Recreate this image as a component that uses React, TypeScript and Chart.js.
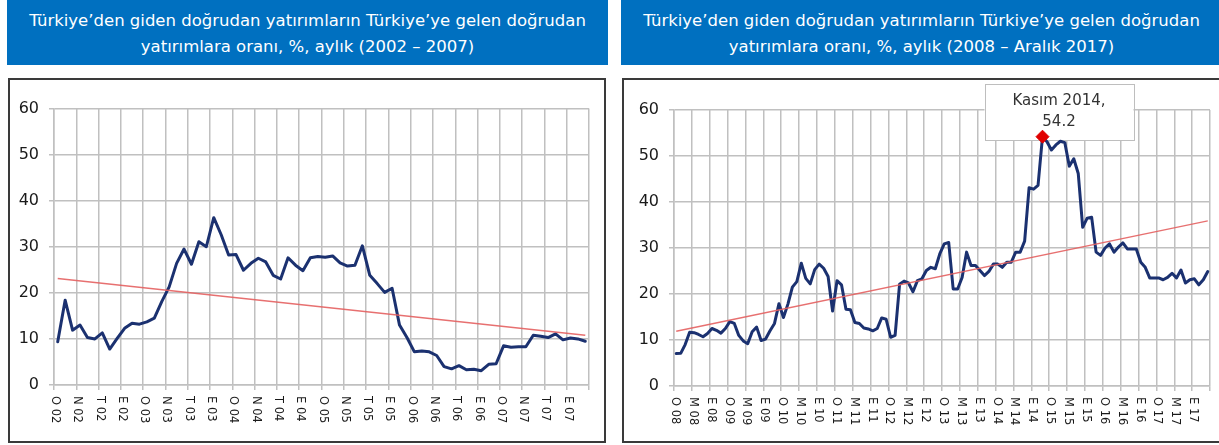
import React, { useEffect, useRef } from "react";
import { Chart, registerables } from "chart.js";

Chart.register(...registerables);
Chart.defaults.font.family = '"DejaVu Sans", Verdana, sans-serif';

// ---------- Data ----------
const leftYears = [2002, 2003, 2004, 2005, 2006, 2007];
const rightYears = [2008, 2009, 2010, 2011, 2012, 2013, 2014, 2015, 2016, 2017];

const leftValues = [
  9.4, 18.4, 11.9, 13.0, 10.3, 10.0, 11.3, 7.8, 10.1, 12.3, 13.4, 13.2,
  13.7, 14.5, 18.1, 21.3, 26.4, 29.5, 26.2, 31.1, 30.0, 36.3, 32.6, 28.2,
  28.3, 24.9, 26.4, 27.5, 26.7, 23.8, 23.0, 27.6, 26.0, 24.8, 27.6, 27.9,
  27.7, 28.0, 26.5, 25.8, 26.0, 30.2, 23.8, 22.0, 20.1, 21.0, 13.0, 10.3,
  7.2, 7.4, 7.2, 6.4, 4.0, 3.5, 4.2, 3.3, 3.4, 3.1, 4.5, 4.6,
  8.5, 8.2, 8.3, 8.3, 10.8, 10.6, 10.3, 11.1, 9.8, 10.2, 10.0, 9.5,
];

const rightValues = [
  7.05, 7.1, 9.0, 11.7, 11.6, 11.2, 10.7, 11.4, 12.5, 12.1, 11.5, 12.5,
  14.0, 13.6, 11.0, 9.8, 9.2, 11.8, 12.8, 9.9, 10.2, 12.0, 13.6, 17.9,
  14.9, 17.8, 21.5, 22.7, 26.7, 23.4, 22.2, 25.3, 26.5, 25.6, 23.8, 16.3,
  22.9, 22.0, 16.7, 16.6, 13.8, 13.6, 12.6, 12.4, 12.0, 12.5, 14.8, 14.5,
  10.6, 11.0, 22.1, 22.8, 22.4, 20.5, 22.9, 23.3, 25.1, 25.8, 25.5, 28.7,
  30.9, 31.2, 21.1, 21.1, 23.6, 29.1, 26.2, 26.2, 25.1, 24.0, 24.9, 26.5,
  26.5, 25.8, 26.9, 26.9, 29.1, 29.1, 31.5, 43.1, 42.8, 43.6, 54.2, 53.1,
  51.3, 52.4, 53.2, 52.9, 47.8, 49.4, 46.2, 34.5, 36.5, 36.7, 29.1, 28.4,
  30.0, 30.9, 29.1, 30.2, 31.1, 29.8, 29.8, 29.8, 26.9, 25.8, 23.5, 23.5,
  23.5, 23.1, 23.6, 24.5, 23.5, 25.2, 22.4, 23.1, 23.3, 22.0, 23.1, 24.9,
];

// trend line end values (first / last month)
const leftTrend = [23.1, 10.8];
const rightTrend = [11.9, 35.9];

// x-axis tick labels (every 3rd month on the left, every 4th on the right)
const leftTickLabels = [
  "O 02", "N 02", "T 02", "E 02", "O 03", "N 03", "T 03", "E 03",
  "O 04", "N 04", "T 04", "E 04", "O 05", "N 05", "T 05", "E 05",
  "O 06", "N 06", "T 06", "E 06", "O 07", "N 07", "T 07", "E 07",
];
const rightTickLabels = [
  "O 08", "M 08", "E 08", "O 09", "M 09", "E 09", "O 10", "M 10", "E 10",
  "O 11", "M 11", "E 11", "O 12", "M 12", "E 12", "O 13", "M 13", "E 13",
  "O 14", "M 14", "E 14", "O 15", "M 15", "E 15", "O 16", "M 16", "E 16",
  "O 17", "M 17", "E 17",
];
const yTicks = [0, 10, 20, 30, 40, 50, 60];

const leftTitle = ["Türkiye’den giden doğrudan yatırımların Türkiye’ye gelen doğrudan", "yatırımlara oranı, %, aylık (2002 – 2007)"];
const rightTitle = ["Türkiye’den giden doğrudan yatırımların Türkiye’ye gelen doğrudan", "yatırımlara oranı, %, aylık (2008 – Aralık 2017)"];
const peakLabel = "Kasım 2014,";

// ---------- Styling ----------
const FONT = '"DejaVu Sans", Verdana, sans-serif';
const GRID = "rgb(192,192,192)";
const LINE = "#1b3170";
const TREND = "rgba(228,96,96,0.9)";
const HEADER_BLUE = "#0070C0";

function monthKeys(years: number[]) {
  const out: string[] = [];
  years.forEach((y) => {
    for (let m = 1; m <= 12; m++) out.push(`${y}-${m < 10 ? "0" : ""}${m}`);
  });
  return out;
}

type Cfg = {
  values: number[];
  trend: number[];
  years: number[];
  tickLabels: string[];
  every: number;
  width: number;
  height: number;
  padTop: number;
  padRight: number;
  yAxisW: number;
  xAxisH: number;
  peak?: boolean;
};

function makeChart(canvas: HTMLCanvasElement, c: Cfg) {
  const labels = monthKeys(c.years);
  const n = labels.length;
  const trendData: (number | null)[] = labels.map(() => null);
  trendData[0] = c.trend[0];
  trendData[n - 1] = c.trend[1];
  let peakIdx = 0;
  c.values.forEach((v, i) => {
    if (v > c.values[peakIdx]) peakIdx = i;
  });

  const xLabelPlugin = {
    id: "xLabels",
    afterDraw(chart: any) {
      const xs = chart.scales.x;
      const ctx = chart.ctx as CanvasRenderingContext2D;
      const half = (xs.getPixelForValue(1) - xs.getPixelForValue(0)) / 2;
      ctx.save();
      ctx.font = `11.5px ${FONT}`;
      ctx.fillStyle = "#1a1a1a";
      ctx.textAlign = "left";
      ctx.textBaseline = "middle";
      c.tickLabels.forEach((lab, k) => {
        const x = xs.getPixelForValue(k * c.every) - half + 1;
        const y = xs.top + 11;
        ctx.save();
        ctx.translate(x, y);
        ctx.rotate(Math.PI / 2);
        ctx.fillText(lab, 0, 0);
        ctx.restore();
      });
      ctx.restore();
    },
  };

  const peakPlugin = {
    id: "peakBox",
    beforeDatasetsDraw(chart: any) {
      if (!c.peak) return;
      const pt = chart.getDatasetMeta(0).data[peakIdx];
      if (!pt) return;
      const ctx = chart.ctx as CanvasRenderingContext2D;
      const bx = pt.x - 58;
      const by = pt.y - 52.5;
      const bw = 149;
      const bh = 56;
      ctx.save();
      ctx.fillStyle = "#ffffff";
      ctx.fillRect(bx, by, bw, bh);
      ctx.strokeStyle = "rgb(190,190,190)";
      ctx.lineWidth = 1;
      ctx.strokeRect(Math.round(bx) + 0.5, Math.round(by) + 0.5, bw, bh);
      ctx.fillStyle = "#333333";
      ctx.font = `15px ${FONT}`;
      ctx.textAlign = "center";
      ctx.textBaseline = "middle";
      ctx.fillText(peakLabel, bx + bw / 2, pt.y - 36);
      ctx.fillText(c.values[peakIdx].toFixed(1), bx + bw / 2, pt.y - 15);
      ctx.restore();
    },
  };

  const every = c.every;
  return new Chart(canvas, {
    type: "line",
    data: {
      labels,
      datasets: [
        {
          data: c.values,
          borderColor: LINE,
          borderWidth: 3,
          tension: 0,
          borderJoinStyle: "round",
          borderCapStyle: "round",
          pointStyle: "rectRot",
          pointRadius: (ctx: any) => (c.peak && ctx.dataIndex === peakIdx ? 6.5 : 0),
          pointHoverRadius: 0,
          pointBackgroundColor: "#e00000",
          pointBorderColor: "#e00000",
          pointBorderWidth: 1,
          order: 2,
        } as any,
        {
          data: trendData,
          spanGaps: true,
          borderColor: TREND,
          borderWidth: 1.4,
          pointRadius: 0,
          tension: 0,
          order: 1,
        } as any,
      ],
    },
    options: {
      animation: false,
      responsive: false,
      maintainAspectRatio: false,
      events: [],
      layout: { padding: { top: c.padTop, right: c.padRight, left: 0, bottom: 0 } },
      plugins: { legend: { display: false }, tooltip: { enabled: false } },
      scales: {
        x: {
          type: "category",
          offset: true,
          grid: {
            offset: true,
            drawTicks: true,
            tickLength: 5,
            lineWidth: 1.5,
            color: (ctx: any) =>
              ctx.index === undefined || ctx.index % every === 0 ? GRID : "rgba(0,0,0,0)",
          },
          border: { display: true, color: GRID, width: 1.5 },
          ticks: { display: false, autoSkip: false },
          afterFit: (s: any) => {
            s.height = c.xAxisH;
          },
        },
        y: {
          min: yTicks[0],
          max: yTicks[yTicks.length - 1],
          afterBuildTicks: (s: any) => {
            s.ticks = yTicks.map((v) => ({ value: v }));
          },
          ticks: {
            font: { family: FONT, size: 16 },
            color: "#1a1a1a",
            padding: 10,
          },
          grid: { color: GRID, lineWidth: 1.5, tickLength: 5, drawTicks: true },
          border: { display: true, color: GRID, width: 1.5 },
          afterFit: (s: any) => {
            s.width = c.yAxisW;
          },
        },
      },
    } as any,
    plugins: [peakPlugin, xLabelPlugin],
  });
}

function Panel(props: { left: number; title: string[]; cfg: Cfg; boxW: number; canvasW: number }) {
  const ref = useRef<HTMLCanvasElement>(null);
  useEffect(() => {
    if (!ref.current) return;
    const ch = makeChart(ref.current, props.cfg);
    return () => ch.destroy();
  }, []);
  const { left, title, boxW, canvasW, cfg } = props;
  return (
    <>
      <div
        style={{
          position: "absolute",
          left: left - 1,
          top: 0,
          width: 601,
          height: 65,
          background: HEADER_BLUE,
          color: "#ffffff",
          fontFamily: FONT,
          fontSize: "16.5px",
          lineHeight: "26.5px",
          textAlign: "center",
          paddingTop: "7.5px",
          boxSizing: "border-box",
          whiteSpace: "nowrap",
        }}
      >
        {title[0]}
        <br />
        {title[1]}
      </div>
      <div
        style={{
          position: "absolute",
          left: left,
          top: 78,
          width: boxW,
          height: 365,
          border: "2px solid #3a3a3a",
          boxSizing: "border-box",
          background: "#ffffff",
        }}
      />
      <canvas
        ref={ref}
        width={canvasW}
        height={cfg.height}
        style={{ position: "absolute", left: left + 2, top: 80, width: canvasW, height: cfg.height }}
      />
    </>
  );
}

export default function App() {
  useEffect(() => {
    document.body.style.margin = "0";
  }, []);
  const leftCfg: Cfg = {
    values: leftValues,
    trend: leftTrend,
    years: leftYears,
    tickLabels: leftTickLabels,
    every: 3,
    width: 594,
    height: 361,
    padTop: 28.5,
    padRight: 15,
    yAxisW: 44,
    xAxisH: 56,
  };
  const rightCfg: Cfg = {
    values: rightValues,
    trend: rightTrend,
    years: rightYears,
    tickLabels: rightTickLabels,
    every: 4,
    width: 595,
    height: 361,
    padTop: 30,
    padRight: 9,
    yAxisW: 50,
    xAxisH: 55,
    peak: true,
  };
  return (
    <div
      style={{
        position: "absolute",
        left: 0,
        top: 0,
        width: 1219,
        height: 445,
        overflow: "hidden",
        background: "#ffffff",
      }}
    >
      <Panel left={8} title={leftTitle} cfg={leftCfg} boxW={598} canvasW={594} />
      <Panel left={622} title={rightTitle} cfg={rightCfg} boxW={600} canvasW={595} />
    </div>
  );
}
